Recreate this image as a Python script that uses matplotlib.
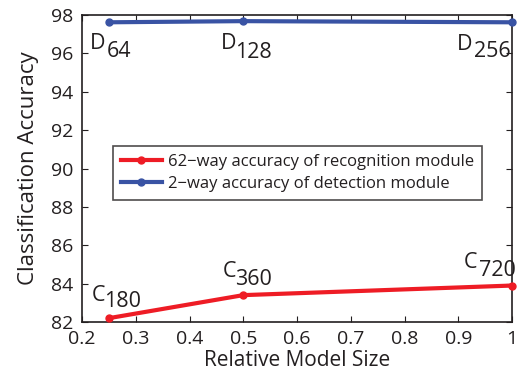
import matplotlib
matplotlib.use("Agg")
import matplotlib.pyplot as plt
import matplotlib.transforms as mtransforms

plt.rcParams['font.family'] = ['Open Sans', 'DejaVu Sans']

model_size = [0.25, 0.5, 1.0]
recog_acc = [82.2, 83.4, 83.9]
detect_acc = [97.62, 97.68, 97.62]
recog_labels = ['C', 'C', 'C']
recog_subs = ['180', '360', '720']
detect_labels = ['D', 'D', 'D']
detect_subs = ['64', '128', '256']
xticks = [0.2, 0.3, 0.4, 0.5, 0.6, 0.7, 0.8, 0.9, 1.0]
xticklabels = ['0.2', '0.3', '0.4', '0.5', '0.6', '0.7', '0.8', '0.9', '1']
yticks = [82, 84, 86, 88, 90, 92, 94, 96, 98]

red = '#ee1c25'
blue = '#3953a4'
ink = '#231f20'

fig = plt.figure(figsize=(5.25, 3.87), dpi=100)
ax = fig.add_axes([82/525, 1-322/387, (512-82)/525, (322-15)/387])

ax.plot(model_size, recog_acc, color=red, lw=3, marker='o', ms=5, clip_on=False,
        label='62\u2212way accuracy of recognition module', zorder=3)
ax.plot(model_size, detect_acc, color=blue, lw=3, marker='o', ms=5, clip_on=False,
        label='2\u2212way accuracy of detection module', zorder=3)

ax.set_xlim(0.2, 1.0)
ax.set_ylim(82, 98)
ax.set_xticks(xticks)
ax.set_xticklabels(xticklabels)
ax.set_yticks(yticks)
ax.tick_params(direction='in', labelsize=14, length=4, top=True, right=True, pad=6,
               colors=ink, labelcolor=ink)
ax.set_xlabel('Relative Model Size', fontsize=15, labelpad=1, color=ink)
ax.set_ylabel('Classification Accuracy', fontsize=16, labelpad=9, color=ink)
for s in ax.spines.values():
    s.set_linewidth(1.2)
    s.set_color(ink)

def place(x, y, letter, sub, ldx, ldy, sdx, sdy):
    t1 = mtransforms.offset_copy(ax.transData, fig=fig, x=ldx, y=ldy, units='dots')
    t2 = mtransforms.offset_copy(ax.transData, fig=fig, x=sdx, y=sdy, units='dots')
    ax.text(x, y, letter, transform=t1, fontsize=15.5, ha='left', va='baseline',
            color=ink, clip_on=False)
    ax.text(x, y, sub, transform=t2, fontsize=15.5, ha='left', va='baseline',
            color=ink, clip_on=False)

# offsets in pixels: letter (dx, dy), subscript (dx, dy)
d_offs = [(-19, -27, -2, -35), (-22, -27.5, -8, -36.5), (-55, -28, -38, -35)]
for x, y, l, s, o in zip(model_size, detect_acc, detect_labels, detect_subs, d_offs):
    place(x, y, l, s, *o)

c_offs = [(-17, 17, -5, 11), (-21, 18, -8, 10), (-48, 18, -33, 10)]
for x, y, l, s, o in zip(model_size, recog_acc, recog_labels, recog_subs, c_offs):
    place(x, y, l, s, *o)

leg = ax.legend(loc='upper left', bbox_to_anchor=((113-82)/430, 1-(146-15)/307),
                fontsize=12, frameon=True, fancybox=False, edgecolor=ink,
                handlelength=2.5, handletextpad=0.35, borderpad=0.45,
                labelspacing=0.4, borderaxespad=0)
leg.get_frame().set_linewidth(1.2)
for t in leg.get_texts():
    t.set_color(ink)

fig.savefig('out.png', dpi=100)
